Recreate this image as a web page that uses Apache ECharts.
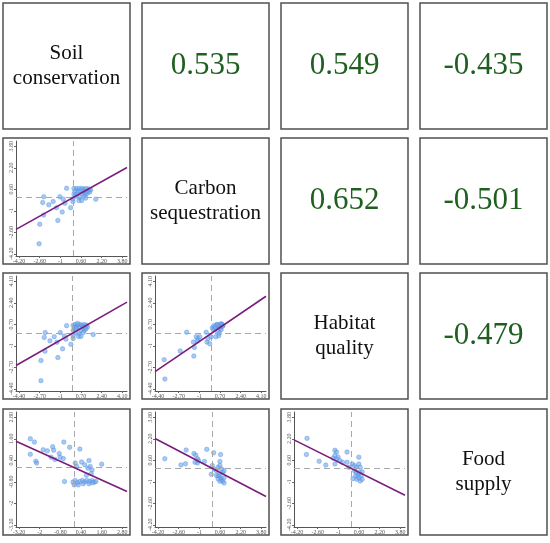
<!DOCTYPE html>
<html>
<head>
<meta charset="utf-8">
<script src="https://cdn.jsdelivr.net/npm/echarts@6/dist/echarts.min.js"></script>
<style>
html, body { margin: 0; padding: 0; background: #fff; }
#main { width: 550px; height: 543px; }
</style>
</head>
<body>
<div id="main"></div>
<script>
// ecosystem services, names on the diagonal
var serviceNames = ['Soil\nconservation', 'Carbon\nsequestration', 'Habitat\nquality', 'Food\nsupply'];

// correlation coefficients: [row, col, r] for the upper triangle
var correlations = [
	[0, 1, 0.535], [0, 2, 0.549], [0, 3, -0.435],
	[1, 2, 0.652], [1, 3, -0.501],
	[2, 3, -0.479]
];

// tick labels used by the scatter panels
var ticksA = [-4.2, -2.6, -1, 0.6, 2.2, 3.8];
var ticksB = [-4.4, -2.7, -1, 0.7, 2.4, 4.1];
var ticksC = [-3.2, -2, -0.8, 0.4, 1.6, 2.8];

// standardized values, [x, y]
var soilCarbon = [
	[-0.52, 0.68], [-2.29, 0.05], [-2.37, -0.38], [-1.9, -0.55], [-1.56, -0.3], [-2.29, -1.31], [-1.3, -0.76],
	[-1.04, 0.05], [-0.78, -0.13], [-0.86, -1.08], [-0.65, -0.43], [-0.21, -0.76], [-0.03, -0.3], [-1.2, -1.71],
	[-2.6, -1.99], [-2.65, -3.45], [1.74, -0.13],
	[0.05, 0.66], [0.23, 0.66], [0.44, 0.66], [0.65, 0.66], [0.83, 0.63], [1.01, 0.66], [1.22, 0.63],
	[0.13, 0.45], [0.39, 0.45], [0.57, 0.5], [0.78, 0.45], [0.96, 0.45], [1.17, 0.5], [0.05, 0.25],
	[0.31, 0.25], [0.7, 0.25], [0.96, 0.25], [1.09, 0.33], [1.27, 0.4], [0.18, 0.08], [0.49, 0],
	[0.83, 0.08], [0.44, -0.23], [0.65, -0.23], [0.96, -0.05], [1.35, 0.58], [-0.03, -0.1]
];
var soilHabitat = [
	[-0.49, 0.6], [-2.25, 0.05], [-2.33, -0.33], [-1.86, -0.6], [-1.51, -0.27], [-2.27, -1.42], [-1.29, -0.71],
	[-1.01, 0.05], [-0.68, -0.22], [-0.82, -1.23], [-0.55, -0.47], [-0.14, -0.88], [0.05, -0.41], [-1.21, -1.92],
	[-2.6, -2.16], [-2.6, -3.75], [1.7, -0.11],
	[0.05, 0.63], [0.22, 0.69], [0.41, 0.63], [0.6, 0.69], [0.77, 0.63], [0.96, 0.69], [1.15, 0.63],
	[0.14, 0.44], [0.33, 0.49], [0.55, 0.44], [0.82, 0.49], [1.04, 0.44], [1.23, 0.49], [0.05, 0.22],
	[0.27, 0.27], [0.69, 0.22], [0.96, 0.22], [1.1, 0.33], [0.22, 0.03], [0.55, -0.05], [0.88, 0.05],
	[0.49, -0.25], [0.69, -0.25], [0.05, -0.19], [0.41, 0.77]
];
var carbonHabitat = [
	[-3.9, -2.09], [-3.84, -3.63], [-2.58, -1.4], [-2.05, 0.08], [-1.49, -0.7], [-1.41, -1.12], [-1.46, -1.81],
	[-1.26, -0.28], [-1.11, -0.42], [-0.97, -0.28], [-1.17, -0.61], [-0.44, 0.08], [-0.38, -0.7], [-0.29, -0.42],
	[-0.15, -0.84], [-0.03, -0.28], [0.06, 0.42], [0.21, 0.61], [0.29, 0.33], [0.44, 0.7], [0.56, 0.56],
	[0.64, 0.5], [0.73, 0.7], [0.85, 0.7], [0.94, 0.61], [0.79, 0.28], [0.5, 0.14], [0.64, 0], [0.59, -0.2],
	[0.35, -0.28], [0.15, 0.28], [0.3, 0.5], [0.7, 0.4], [0.9, 0.55], [0.5, 0.65], [0.8, 0.75]
];
var soilFood = [
	[-2.55, 1.61], [-2.31, 1.42], [-2.55, 0.74], [-2.23, 0.35], [-2.18, 0.25], [-1.8, 0.99], [-1.56, 0.93],
	[-1.25, 1.16], [-1.19, 0.97], [-1.34, 0.58], [-1.12, 0.45], [-0.87, 0.78], [-0.82, 0.58], [-0.63, 0.5],
	[-0.6, 1.42], [-0.26, 1.13], [-0.56, -0.78], [0.33, 1.03], [0.06, 0.25], [0.15, 0.06], [0.43, 0.31],
	[0.61, 0.16], [0.86, 0.39], [0.93, 0.06], [1.04, -0.14], [0.99, -0.33], [1.6, 0.19], [0.8, -0.04],
	[0.71, -0.43],
	[-0.07, -0.81], [0.06, -0.72], [0.19, -0.85], [0.33, -0.78], [0.48, -0.72], [0.61, -0.81], [0.74, -0.72],
	[0.89, -0.78], [1.04, -0.72], [1.17, -0.81], [0, -0.97], [0.24, -0.97], [0.52, -0.91], [0.86, -0.91],
	[1.08, -0.85], [1.26, -0.78]
];
var carbonFood = [
	[-3.68, 0.72], [-2.03, 1.37], [-2.43, 0.26], [-2.08, 0.34], [-1.42, 1.11], [-1.28, 0.98], [-1.15, 0.72],
	[-1.34, 0.46], [-1.15, 0.41], [-1.07, 0.59], [-0.43, 1.42], [-0.61, 0.52], [0.11, 1.16], [0.64, 1.03],
	[0.59, 0.52], [0, 0.21], [-0.08, -0.44], [0.13, -0.05], [0.32, -0.18], [0.45, 0.08], [0.59, 0.21],
	[0.72, -0.05], [0.8, -0.31], [0.91, -0.18], [0.53, -0.57], [0.64, -0.7], [0.72, -0.83], [0.8, -0.95],
	[0.59, -0.95], [0.45, -0.77], [0.91, -0.7], [0.91, -1.08], [0.45, -0.52], [0.32, -0.52]
];
var habitatFood = [
	[-3.43, 2.24], [-3.48, 1.04], [-2.49, 0.53], [-1.98, 0.25], [-1.27, 1.35], [-1.14, 1.22], [-1.27, 0.97],
	[-1.4, 0.76], [-1.14, 0.71], [-1.02, 0.84], [-1.27, 0.33], [-0.89, 0.58], [-0.69, 0.46], [-0.33, 1.22],
	[-0.33, 0.46], [0.08, 0.33], [-0.18, 0.08], [0.25, 0.2], [0.38, 0.08], [0.58, 0.84], [0.58, 0.33],
	[0.69, 0.08], [0.25, -0.18], [0.38, -0.3], [0.51, -0.51], [0.64, -0.3], [0.76, -0.56], [0.84, -0.25],
	[0.13, -0.76], [0.43, -0.81], [0.69, -0.94], [0.84, -0.81], [0.58, -0.69], [0.33, -0.56]
];

// lower triangle panels: row, col, points, x ticks, y ticks
var panels = [
	{ row: 1, col: 0, points: soilCarbon, xTicks: ticksA, yTicks: ticksA },
	{ row: 2, col: 0, points: soilHabitat, xTicks: ticksB, yTicks: ticksB },
	{ row: 2, col: 1, points: carbonHabitat, xTicks: ticksB, yTicks: ticksB },
	{ row: 3, col: 0, points: soilFood, xTicks: ticksC, yTicks: ticksC },
	{ row: 3, col: 1, points: carbonFood, xTicks: ticksA, yTicks: ticksA },
	{ row: 3, col: 2, points: habitatFood, xTicks: ticksA, yTicks: ticksA }
];

var boxX = [3, 142, 281, 420];
var boxY = [3, 138, 273, 409];
var boxW = 127, boxH = 126;
var serif = 'Liberation Serif, Times New Roman, serif';

function corrOf(a, b) {
	for (var i = 0; i < correlations.length; i++) {
		var c = correlations[i];
		if ((c[0] === a && c[1] === b) || (c[0] === b && c[1] === a)) return c[2];
	}
	return 0;
}

function tickText(v) {
	return Math.abs(v - Math.round(v)) < 1e-9 ? String(Math.round(v)) : v.toFixed(2);
}

var chart = echarts.init(document.getElementById('main'));

var grids = [], xAxes = [], yAxes = [], series = [], graphics = [];

// frames round every cell
for (var r = 0; r < 4; r++) {
	for (var c = 0; c < 4; c++) {
		graphics.push({
			type: 'rect',
			shape: { x: boxX[c], y: boxY[r], width: boxW, height: boxH },
			style: { fill: 'transparent', stroke: '#505050', lineWidth: 1.5 },
			z: 10
		});
	}
}

// names on the diagonal
serviceNames.forEach(function(name, i) {
	graphics.push({
		type: 'text',
		x: boxX[i] + boxW / 2,
		y: boxY[i] + boxH / 2,
		style: {
			text: name,
			font: '21px ' + serif,
			fill: '#111',
			align: 'center',
			verticalAlign: 'middle',
			textAlign: 'center',
			textVerticalAlign: 'middle',
			lineHeight: 25
		},
		z: 10
	});
});

// coefficients in the upper triangle
correlations.forEach(function(c) {
	graphics.push({
		type: 'text',
		x: boxX[c[1]] + boxW / 2,
		y: boxY[c[0]] + boxH / 2,
		style: {
			text: c[2].toFixed(3),
			font: '31px ' + serif,
			fill: '#1f5f1f',
			align: 'center',
			verticalAlign: 'middle',
			textAlign: 'center',
			textVerticalAlign: 'middle'
		},
		z: 10
	});
});

panels.forEach(function(p, i) {
	var xs = p.xTicks, ys = p.yTicks;
	var xSpan = xs[xs.length - 1] - xs[0];
	var ySpan = ys[ys.length - 1] - ys[0];
	var xMin = xs[0] - xSpan * 0.03, xMax = xs[xs.length - 1] + xSpan * 0.045;
	var yMin = ys[0] - ySpan * 0.02, yMax = ys[ys.length - 1] + ySpan * 0.05;
	var rr = corrOf(p.row, p.col);

	grids.push({
		left: boxX[p.col] + 13,
		top: boxY[p.row] + 3,
		width: 111,
		height: 115
	});
	var lineStyle = { color: '#555', width: 1 };
	xAxes.push({
		type: 'value',
		gridIndex: i,
		min: xMin,
		max: xMax,
		axisLine: { show: true, onZero: false, lineStyle: lineStyle },
		splitLine: { show: false },
		axisTick: { show: true, length: 2, customValues: xs, lineStyle: { color: '#666' } },
		axisLabel: {
			customValues: xs,
			formatter: tickText,
			fontSize: 6,
			fontFamily: serif,
			color: '#555',
			margin: 2,
			hideOverlap: false
		}
	});
	yAxes.push({
		type: 'value',
		gridIndex: i,
		min: yMin,
		max: yMax,
		axisLine: { show: true, onZero: false, lineStyle: lineStyle },
		splitLine: { show: false },
		axisTick: { show: true, length: 2, customValues: ys, lineStyle: { color: '#666' } },
		axisLabel: {
			customValues: ys,
			formatter: tickText,
			rotate: 90,
			fontSize: 6,
			fontFamily: serif,
			color: '#555',
			margin: 2,
			hideOverlap: false
		}
	});

	series.push({
		type: 'scatter',
		xAxisIndex: i,
		yAxisIndex: i,
		data: p.points,
		symbolSize: 4.5,
		itemStyle: { color: 'rgba(110,165,235,0.75)', borderColor: '#4f8fe0', borderWidth: 0.5 },
		markLine: {
			silent: true,
			symbol: 'none',
			label: { show: false },
			lineStyle: { color: '#a8a8a8', type: [6, 4], width: 1 },
			data: [{ xAxis: 0 }, { yAxis: 0 }]
		}
	});
	series.push({
		type: 'line',
		xAxisIndex: i,
		yAxisIndex: i,
		data: [[xMin, rr * xMin], [xMax, rr * xMax]],
		symbol: 'none',
		lineStyle: { color: '#7a1c7c', width: 1.6 },
		z: 5
	});
});

chart.setOption({
	backgroundColor: '#fff',
	animation: false,
	grid: grids,
	xAxis: xAxes,
	yAxis: yAxes,
	series: series,
	graphic: graphics
});
</script>
</body>
</html>
